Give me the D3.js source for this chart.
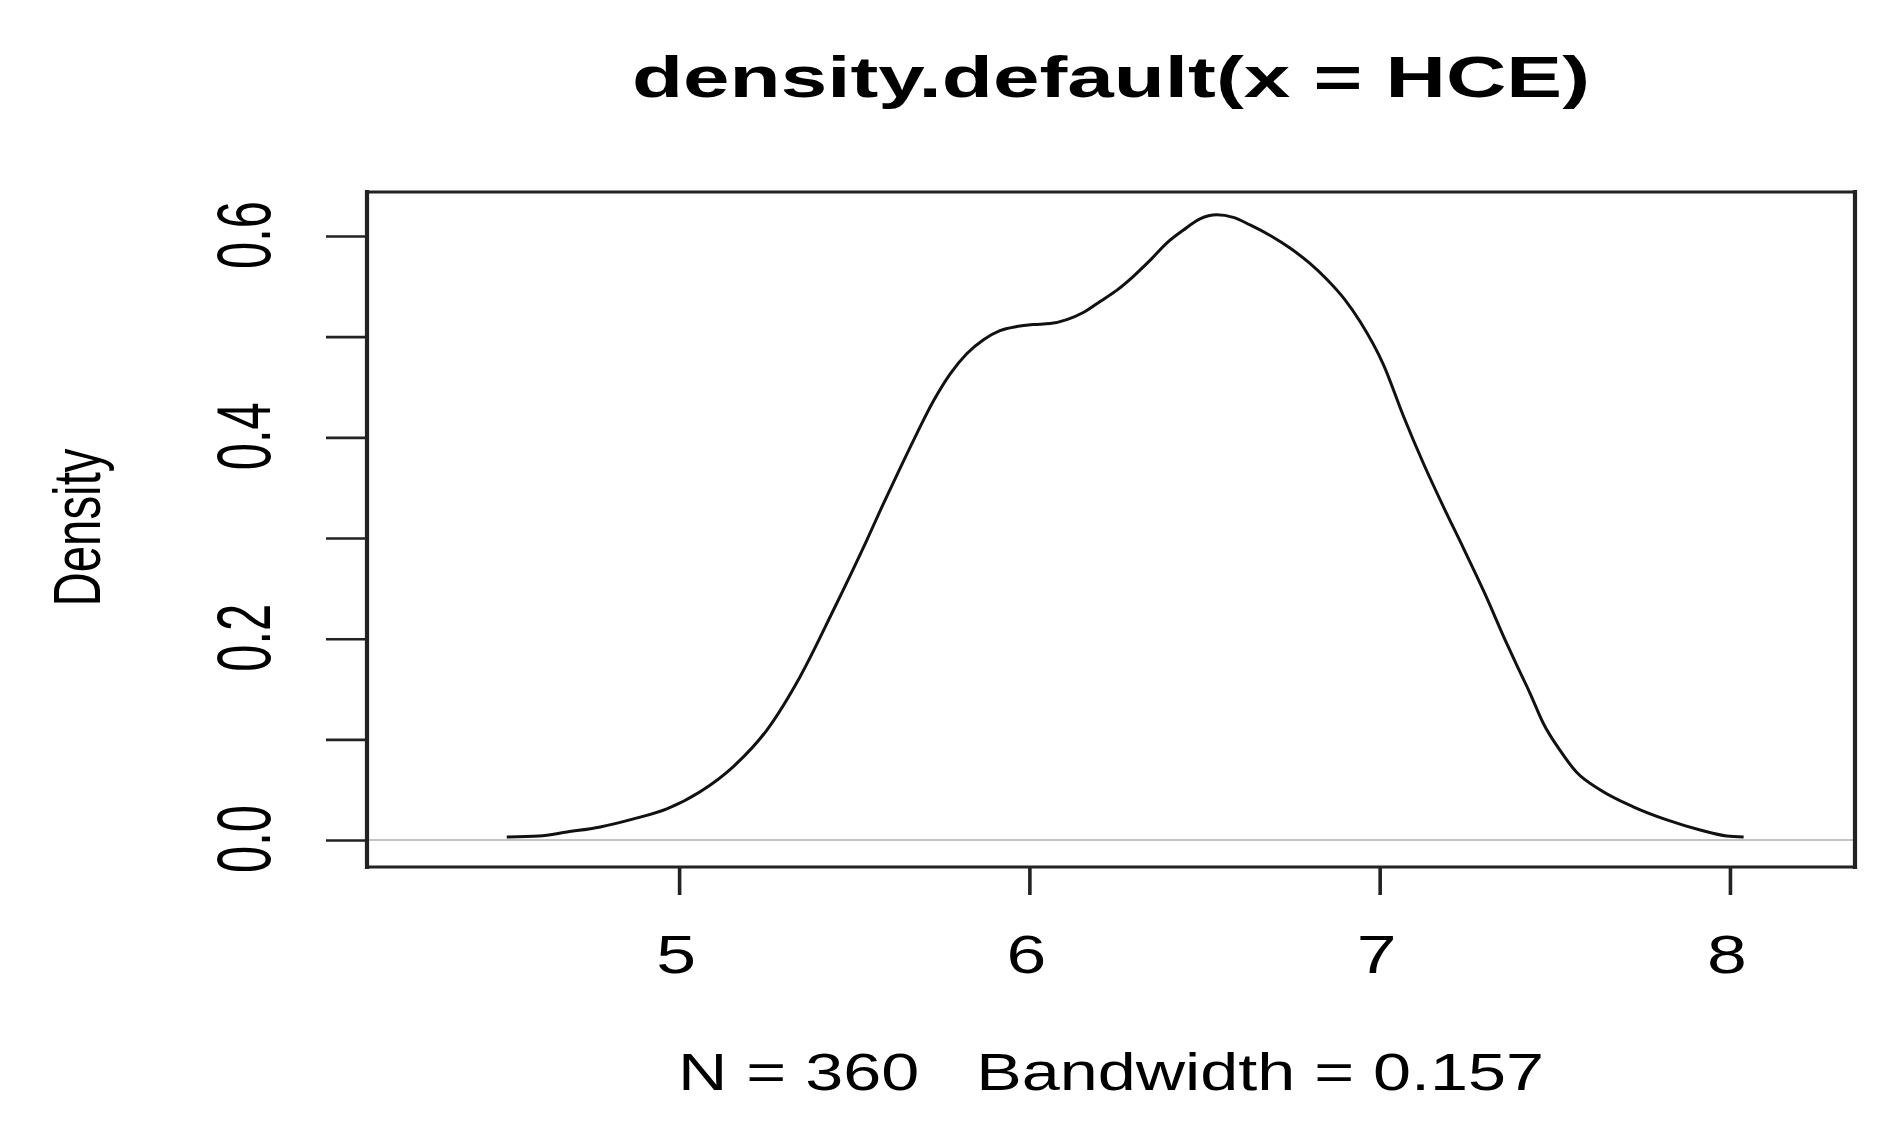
<!DOCTYPE html>
<html>
<head>
<meta charset="utf-8">
<script src="https://cdn.jsdelivr.net/npm/d3@7"></script>
<style>
  html, body { margin: 0; padding: 0; background: #ffffff; }
  svg { display: block; }
  text { font-family: "Liberation Sans", Arial, Helvetica, sans-serif; fill: #000; white-space: pre; }
</style>
</head>
<body>
<svg id="chart" width="1896" height="1139"></svg>
<script>
// ---- data ----
const densityX = [4.508, 4.60, 4.68, 4.775, 4.87, 4.965, 5.06, 5.155, 5.25, 5.345, 5.44, 5.536, 5.583, 5.625,
  5.679, 5.726, 5.774, 5.821, 5.869, 5.916, 5.964, 6.011, 6.059, 6.107, 6.154, 6.202, 6.249, 6.297, 6.345,
  6.392, 6.44, 6.487, 6.535, 6.582, 6.63, 6.69, 6.744, 6.80, 6.849, 6.90, 6.944, 7.011, 7.068, 7.125, 7.182,
  7.239, 7.30, 7.363, 7.391, 7.429, 7.467, 7.515, 7.563, 7.629, 7.724, 7.82, 7.915, 7.991, 8.039];
const densityY = [0.003, 0.004, 0.008, 0.013, 0.021, 0.031, 0.048, 0.073, 0.109, 0.162, 0.228, 0.298, 0.334, 0.365,
  0.404, 0.436, 0.463, 0.483, 0.497, 0.506, 0.510, 0.512, 0.513, 0.517, 0.524, 0.535, 0.546, 0.560, 0.576,
  0.593, 0.606, 0.617, 0.621, 0.6185, 0.611, 0.600, 0.588, 0.573, 0.557, 0.537, 0.515, 0.472, 0.421, 0.374, 0.331,
  0.290, 0.245, 0.195, 0.174, 0.146, 0.116, 0.089, 0.067, 0.050, 0.033, 0.020, 0.010, 0.004, 0.003];
const xTicks = [5, 6, 7, 8];
const yTicks = [0, 0.1, 0.2, 0.3, 0.4, 0.5, 0.6];
const yTickLabels = ["0.0", "", "0.2", "", "0.4", "", "0.6"];
const xDomain = [4.109, 8.357];
const yDomain = [-0.0268, 0.6437];
const titleText = "density.default(x = HCE)";
const xLabelText = "N = 360   Bandwidth = 0.157";
const yLabelText = "Density";

// ---- layout ----
const box = { left: 367, right: 1855, top: 192, bottom: 867 };
const stretch = 1.43; // horizontal stretch seen in the reference

const svg = d3.select("#chart");
svg.append("rect").attr("width", 1896).attr("height", 1139).attr("fill", "#fff");

const x = d3.scaleLinear().domain(xDomain).range([box.left, box.right]);
const y = d3.scaleLinear().domain(yDomain).range([box.bottom, box.top]);

// zero reference line (gray)
svg.append("line")
  .attr("x1", box.left).attr("x2", box.right)
  .attr("y1", y(0)).attr("y2", y(0))
  .attr("stroke", "#c4c4c4").attr("stroke-width", 2);

// density curve
const pts = densityX.map((d, i) => [d, densityY[i]]);
const line = d3.line().x(d => x(d[0])).y(d => y(d[1])).curve(d3.curveMonotoneX);
svg.append("path").datum(pts)
  .attr("d", line)
  .attr("fill", "none")
  .attr("stroke", "#111")
  .attr("stroke-width", 3)
  .attr("stroke-linejoin", "round");

// box
const boxG = svg.append("g").attr("stroke", "#222").attr("stroke-linecap", "square");
boxG.append("line").attr("x1", box.left).attr("x2", box.right).attr("y1", box.top).attr("y2", box.top).attr("stroke-width", 3);
boxG.append("line").attr("x1", box.left).attr("x2", box.right).attr("y1", box.bottom).attr("y2", box.bottom).attr("stroke-width", 3);
boxG.append("line").attr("x1", box.left).attr("x2", box.left).attr("y1", box.top).attr("y2", box.bottom).attr("stroke-width", 4.2);
boxG.append("line").attr("x1", box.right).attr("x2", box.right).attr("y1", box.top).attr("y2", box.bottom).attr("stroke-width", 4.2);

// x axis ticks
const xAxis = svg.append("g")
  .attr("transform", `translate(0,${box.bottom})`)
  .call(d3.axisBottom(x).tickValues(xTicks).tickSizeInner(28).tickSizeOuter(0).tickFormat(""));
xAxis.select(".domain").remove();
xAxis.selectAll(".tick line").attr("stroke", "#222").attr("stroke-width", 3.6);

// x tick labels
svg.append("g").selectAll("text").data(xTicks).join("text")
  .attr("transform", d => `translate(${x(d) - 3},${box.bottom + 106}) scale(1.35,1)`)
  .attr("text-anchor", "middle")
  .attr("font-size", 53)
  .text(d => d3.format("d")(d));

// y axis ticks
const yAxis = svg.append("g")
  .attr("transform", `translate(${box.left},0)`)
  .call(d3.axisLeft(y).tickValues(yTicks).tickSizeInner(41).tickSizeOuter(0).tickFormat(""));
yAxis.select(".domain").remove();
yAxis.selectAll(".tick line").attr("stroke", "#222").attr("stroke-width", 2.6);

// y tick labels (rotated)
svg.append("g").selectAll("text").data(yTicks.map((v, i) => ({ v, lab: yTickLabels[i] })).filter(d => d.lab))
  .join("text")
  .attr("transform", d => `translate(${box.left - 97},${y(d.v) - 1}) rotate(-90) scale(1,${stretch})`)
  .attr("text-anchor", "middle")
  .attr("font-size", 53)
  .attr("textLength", 68)
  .attr("lengthAdjust", "spacingAndGlyphs")
  .text(d => d.lab);

// title
const cx = (box.left + box.right) / 2;
svg.append("text")
  .attr("x", cx).attr("y", 97)
  .attr("text-anchor", "middle")
  .attr("font-size", 58)
  .attr("font-weight", "bold")
  .attr("textLength", 958)
  .attr("lengthAdjust", "spacingAndGlyphs")
  .text(titleText);

// x label (sub)
svg.append("text")
  .attr("x", cx).attr("y", 1090)
  .attr("text-anchor", "middle")
  .attr("xml:space", "preserve")
  .attr("font-size", 51)
  .attr("textLength", 866)
  .attr("lengthAdjust", "spacingAndGlyphs")
  .text(xLabelText);

// y label
svg.append("text")
  .attr("transform", `translate(100,${(box.top + box.bottom) / 2 - 2}) rotate(-90) scale(1,${stretch})`)
  .attr("text-anchor", "middle")
  .attr("font-size", 47)
  .attr("textLength", 158)
  .attr("lengthAdjust", "spacingAndGlyphs")
  .text(yLabelText);
</script>
</body>
</html>
